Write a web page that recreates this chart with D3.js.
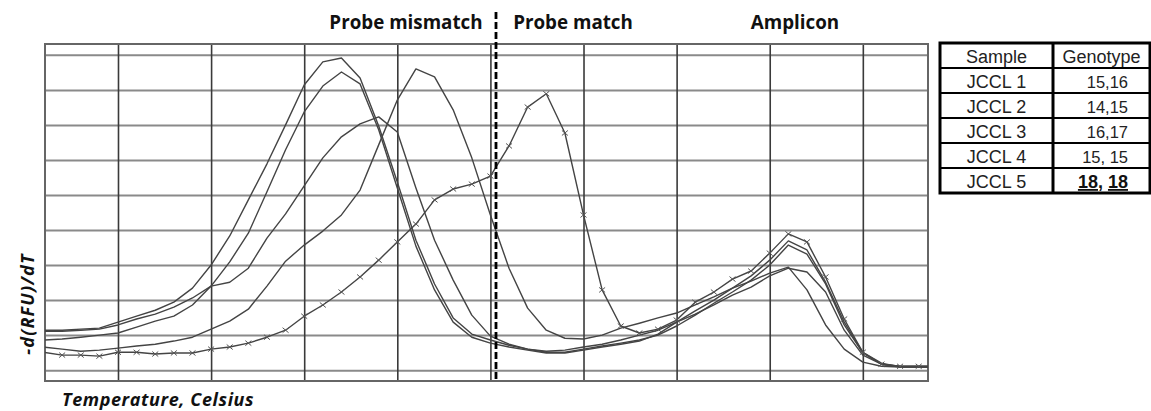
<!DOCTYPE html>
<html lang="en">

<head>
    <meta charset="UTF-8">
    <title>Melt curves</title>
    <style>
        * {
            margin: 0;
            padding: 0;
        }

        html,
        body {
            overflow: hidden;
            background: #fff;
        }
    </style>
</head>

<body>
    <div id="chart"></div>
    <script src="https://cdn.jsdelivr.net/npm/d3@7"></script>
    <script>
        // temperature steps (one reading per degree)
        const temps = [56, 57, 58, 59, 60, 61, 62, 63, 64, 65, 66, 67, 68, 69, 70, 71, 72, 73, 74, 75,
            76, 77, 78, 79, 80, 81, 82, 83, 84, 85, 86, 87, 88, 89, 90, 91, 92, 93, 94, 95,
            96, 97, 98, 99, 100, 101, 102, 103, 104]

        // -d(RFU)/dT per sample
        const jccl1 = [11.4, 11.4, 11.7, 12.0, 13.7, 15.4, 17.1, 19.4, 23.4, 30.0, 38.3, 48.6, 58.9, 70.0, 81.4, 88.0, 89.1, 83.4, 69.7, 53.7,
            37.1, 24.6, 14.9, 10.3, 8.6, 7.1, 6.0, 5.1, 5.1, 6.0, 6.9, 7.7, 8.6, 10.0, 12.6, 15.7, 19.1, 22.3, 25.7, 30.0,
            35.7, 33.1, 24.6, 12.9, 4.9, 1.7, 0.9, 0.9, 0.9]
        const jccl2 = [8.6, 8.9, 9.4, 10.0, 10.6, 12.3, 14.0, 15.4, 18.6, 24.0, 25.1, 29.1, 37.7, 44.6, 52.6, 60.6, 66.6, 70.3, 72.3, 68.0,
            52.0, 37.1, 25.7, 15.7, 9.7, 7.4, 6.0, 5.4, 5.7, 6.6, 7.4, 8.6, 10.0, 11.4, 13.7, 16.0, 18.6, 21.4, 23.7, 26.9,
            29.1, 28.0, 22.3, 11.4, 4.3, 1.7, 1.1, 1.1, 1.1]
        const jccl3 = [6.6, 6.0, 5.4, 5.7, 6.3, 6.9, 7.4, 8.3, 9.4, 11.7, 14.0, 17.4, 24.0, 31.1, 35.7, 39.7, 44.3, 51.4, 64.3, 77.1,
            86.0, 83.7, 74.3, 60.6, 44.3, 29.1, 17.7, 11.4, 9.1, 8.9, 10.0, 12.0, 13.4, 14.9, 16.3, 18.6, 20.9, 23.4, 25.4, 27.7,
            29.4, 22.9, 12.9, 6.0, 2.3, 1.1, 0.9, 0.9, 0.9]
        const jccl4 = [11.1, 11.1, 11.4, 11.7, 12.9, 14.6, 16.0, 18.0, 20.6, 24.0, 30.9, 39.1, 50.9, 62.9, 73.7, 81.1, 85.1, 81.7, 68.6, 52.0,
            35.4, 22.9, 13.7, 9.4, 7.7, 6.6, 5.7, 4.9, 4.9, 5.7, 6.6, 7.4, 8.3, 10.3, 13.7, 16.9, 20.0, 23.4, 26.9, 31.4,
            36.9, 34.3, 25.1, 13.7, 5.1, 2.0, 0.9, 0.9, 0.9]
        const jccl5 = [5.1, 4.3, 4.3, 4.0, 5.1, 5.1, 4.6, 4.9, 4.9, 6.0, 6.6, 7.7, 9.4, 11.4, 15.4, 18.6, 22.3, 26.6, 31.4, 36.6,
            41.7, 48.6, 51.7, 53.1, 55.4, 64.0, 75.1, 78.9, 67.7, 44.3, 22.9, 12.6, 10.6, 11.7, 14.3, 19.4, 22.3, 26.0, 28.3, 33.4,
            38.9, 36.6, 26.6, 14.6, 5.1, 1.7, 1.1, 1.1, 1.1]

        const xTicks = [60, 65, 70, 75, 80, 85, 90, 95, 100]
        const yTicks = [0, 10, 20, 30, 40, 50, 60, 70, 80, 90]
        const dividerTemp = 80.3

        const regionLabels = ['Probe mismatch', 'Probe match', 'Amplicon']
        const tableHeader = ['Sample', 'Genotype']
        const samples = ['JCCL 1', 'JCCL 2', 'JCCL 3', 'JCCL 4', 'JCCL 5']
        const genotypes = ['15,16', '14,15', '16,17', '15, 15', '18, 18']

        function drawChart() {
            const width = 1151
            const height = 411
            const svg = d3.select('#chart')
                .append('svg')
                .attr('width', width)
                .attr('height', height)
                .style('background', '#fff')

            const plot = { left: 45, right: 928, top: 44, bottom: 381 }

            const x = d3.scaleLinear().domain([56.08, 103.5]).range([plot.left, plot.right])
            const y = d3.scaleLinear().domain([-3.1, 93.1]).range([plot.bottom, plot.top])

            svg.append('clipPath').attr('id', 'plotClip')
                .append('rect')
                .attr('x', plot.left).attr('y', plot.top)
                .attr('width', plot.right - plot.left).attr('height', plot.bottom - plot.top)

            // horizontal grid
            const gy = svg.append('g')
                .attr('transform', `translate(${plot.left},0)`)
                .call(d3.axisLeft(y).tickValues(yTicks).tickSize(-(plot.right - plot.left)).tickFormat(''))
            gy.select('.domain').remove()
            gy.selectAll('line').attr('stroke', '#8a8a8a').attr('stroke-width', 2)

            // vertical grid
            const gx = svg.append('g')
                .attr('transform', `translate(0,${plot.bottom})`)
                .call(d3.axisBottom(x).tickValues(xTicks).tickSize(-(plot.bottom - plot.top)).tickFormat(''))
            gx.select('.domain').remove()
            gx.selectAll('line').attr('stroke', '#3a3a3a').attr('stroke-width', 1.6)

            // frame
            svg.append('rect')
                .attr('x', plot.left).attr('y', plot.top)
                .attr('width', plot.right - plot.left).attr('height', plot.bottom - plot.top)
                .attr('fill', 'none')
                .attr('stroke', '#666')
                .attr('stroke-width', 2)

            const series = [jccl1, jccl2, jccl3, jccl4, jccl5]
            const line = d3.line()
                .x((d, i) => x(temps[i]))
                .y(d => y(d))

            const lines = svg.append('g').attr('clip-path', 'url(#plotClip)')
            lines.selectAll('path')
                .data(series)
                .join('path')
                .attr('d', line)
                .attr('fill', 'none')
                .attr('stroke', '#444')
                .attr('stroke-width', 1.4)
                .attr('stroke-linejoin', 'round')

            // cross markers on JCCL 5
            const markIdx = d3.range(jccl5.length).filter(i => temps[i] >= 57 && temps[i] <= 103)
            lines.selectAll('path.mark')
                .data(markIdx)
                .join('path')
                .attr('class', 'mark')
                .attr('transform', i => `translate(${x(temps[i])},${y(jccl5[i])})`)
                .attr('d', 'M-3,-2.5L3,2.5M-3,2.5L3,-2.5')
                .attr('stroke', '#555')
                .attr('stroke-width', 1)

            // dashed divider
            svg.append('line')
                .attr('x1', x(dividerTemp)).attr('x2', x(dividerTemp))
                .attr('y1', 12).attr('y2', plot.bottom)
                .attr('stroke', '#000')
                .attr('stroke-width', 2.8)
                .attr('stroke-dasharray', '7,3')

            // region labels
            const labelX = [406, 573, 795]
            svg.selectAll('text.region')
                .data(regionLabels)
                .join('text')
                .attr('class', 'region')
                .attr('x', (d, i) => labelX[i])
                .attr('y', 29)
                .attr('text-anchor', 'middle')
                .attr('font-family', 'Open Sans, sans-serif')
                .attr('font-weight', 'bold')
                .attr('font-size', 18.8)
                .attr('fill', '#111')
                .text(d => d)

            // axis titles
            svg.append('text')
                .attr('x', 62)
                .attr('y', 406)
                .attr('font-family', 'Open Sans, sans-serif')
                .attr('font-weight', 'bold')
                .attr('font-style', 'italic')
                .attr('font-size', 18)
                .attr('letter-spacing', 0.6)
                .attr('fill', '#111')
                .text('Temperature, Celsius')

            svg.append('text')
                .attr('transform', 'translate(34,304) rotate(-90)')
                .attr('text-anchor', 'middle')
                .attr('font-family', 'Open Sans, sans-serif')
                .attr('font-weight', 'bold')
                .attr('font-style', 'italic')
                .attr('font-size', 18)
                .attr('letter-spacing', 1.2)
                .attr('fill', '#111')
                .text('-d(RFU)/dT')

            // genotype table
            const tx = [940, 1053, 1150]
            const rowH = 25
            const ty0 = 43
            const table = svg.append('g')
            const rows = [tableHeader].concat(samples.map((s, i) => [s, genotypes[i]]))

            rows.forEach((r, i) => {
                table.append('line')
                    .attr('x1', tx[0]).attr('x2', tx[2])
                    .attr('y1', ty0 + i * rowH).attr('y2', ty0 + i * rowH)
                    .attr('stroke', '#000').attr('stroke-width', 2)
                table.append('text')
                    .attr('x', (tx[0] + tx[1]) / 2)
                    .attr('y', ty0 + i * rowH + 20)
                    .attr('text-anchor', 'middle')
                    .attr('font-family', 'Liberation Sans, Arial, sans-serif')
                    .attr('font-size', 18)
                    .attr('fill', '#222')
                    .text(r[0])
                const t = table.append('text')
                    .attr('x', i === 0 ? (tx[1] + tx[2]) / 2 : 1128)
                    .attr('y', ty0 + i * rowH + 20)
                    .attr('text-anchor', i === 0 ? 'middle' : 'end')
                    .attr('font-family', 'Liberation Sans, Arial, sans-serif')
                    .attr('font-size', i === 0 ? 18 : 16.5)
                    .attr('fill', '#222')
                if (i === rows.length - 1) {
                    t.attr('font-weight', 'bold').attr('fill', '#111').attr('font-size', 18)
                    r[1].split(' ').forEach((part, k) => {
                        t.append('tspan')
                            .attr('text-decoration', 'underline')
                            .text(part)
                        if (k === 0) t.append('tspan').text(' ')
                    })
                } else {
                    t.text(r[1])
                }
            })
            table.append('line')
                .attr('x1', tx[1]).attr('x2', tx[1])
                .attr('y1', ty0).attr('y2', ty0 + rows.length * rowH)
                .attr('stroke', '#000').attr('stroke-width', 3)
            table.append('rect')
                .attr('x', tx[0]).attr('y', ty0)
                .attr('width', tx[2] - tx[0]).attr('height', rows.length * rowH)
                .attr('fill', 'none')
                .attr('stroke', '#000')
                .attr('stroke-width', 3)
        }

        drawChart()
    </script>
</body>

</html>
